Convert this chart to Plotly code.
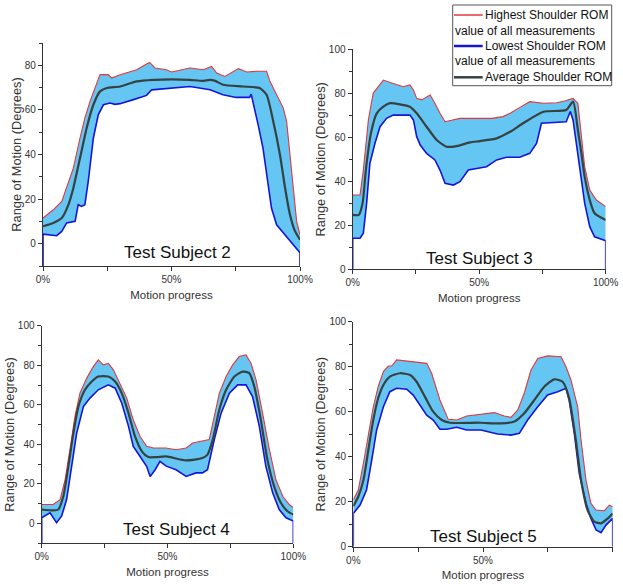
import plotly.graph_objects as go

# ---------------- data ----------------
subjects = ["Test Subject 2", "Test Subject 3", "Test Subject 4", "Test Subject 5"]
legend_names = ["Highest Shoulder ROM", "value of all measurements",
                "Lowest Shoulder ROM", "value of all measurements",
                "Average Shoulder ROM"]
x_tick_vals = [0, 25, 50, 75, 100]
x_tick_text = ["0%", "", "50%", "", "100%"]
y_ranges = [[-10, 90], [0, 100], [-10, 100], [0, 100]]

# Subject 2
s2_high_x = [0, 4, 7.3, 9.2, 11.8, 14.4, 16.3, 18.3, 20.2, 22.2, 25.4, 26.7, 30, 36.5, 40.3, 41.5, 43.6, 48, 50,
             54.6, 57.2, 62.4, 65.6, 67.6, 70.8, 76, 79.3, 83.2, 87, 88.3, 90.9, 93.5, 94.8, 96.1, 97.4, 98.7, 100]
s2_high_y = [11.5, 15.2, 19, 25, 33.9, 47.4, 56.4, 63.8, 69.8, 75.8, 75.8, 74.3, 75.8, 78, 80.6, 81.3, 78.8, 78, 77,
             78, 78.8, 78, 79.5, 76.5, 75, 78.5, 77, 77.3, 77.3, 72.8, 66.8, 60.8, 54.8, 39.9, 25, 10, 4]
s2_low_x = [0, 5.3, 7.3, 9.2, 12.5, 13.7, 15, 16.3, 17.6, 19.6, 21.5, 23.5, 26.1, 28, 30, 35.2, 40.3, 42.3, 49.4,
            57.2, 65, 70, 75.2, 80.4, 81, 81.7, 83.7, 85.6, 87.6, 88.9, 90.9, 94.2, 97.4, 99.4, 100]
s2_low_y = [4.3, 3.6, 5.5, 9.3, 10, 17.5, 16.7, 17.5, 27.9, 47.4, 57.8, 62.3, 63.1, 62.5, 62.8, 64.6, 66.5, 69, 69.8,
            70.5, 69, 66.8, 65.6, 65.6, 67.1, 63.8, 53.4, 42.9, 27.9, 16, 8.5, 4, -0.4, -3.5, -4]
s2_mean_x = [0, 4, 7.3, 9.9, 11.8, 14.4, 17, 19.6, 22.2, 24.8, 30, 36.5, 43, 50, 57.2, 62, 65, 67, 70, 77.8, 84.3,
             87, 89.6, 92.2, 94.2, 96.1, 98.1, 100]
s2_mean_y = [7.8, 9.3, 11.5, 17.5, 25, 38.4, 51.9, 62.3, 68.3, 69.8, 70.5, 72.8, 73.5, 73.7, 73.5, 73, 73.5, 73, 71.3,
             70.5, 69.8, 66.8, 54.8, 39.9, 25, 13, 5.5, 1.8]

# Subject 3
s3_high_x = [0, 2.9, 4.2, 6.2, 8.1, 9.5, 12.1, 16, 20, 22.6, 24, 25.3, 27.3, 30.6, 32.5, 34.5, 36.5, 42.4, 50.3, 55,
             59.4, 62.2, 66.1, 70, 75.4, 80.7, 84.1, 87.1, 89, 90.4, 91.7, 93.7, 96.3, 100]
s3_high_y = [33.8, 33.8, 45.1, 67.9, 80, 82.3, 86, 84.5, 83, 83.8, 81.5, 77.7, 77, 79.2, 75.5, 70.9, 67.1, 68.6, 68.6,
             68.6, 69.4, 70.9, 73.6, 76.2, 75.5, 75.7, 76.6, 77.7, 75.5, 60.3, 46.6, 36, 31.5, 28.5]
s3_low_x = [0, 2.9, 4.2, 5.5, 6.8, 8.8, 10.8, 13.4, 16, 22.6, 24, 25.3, 26.7, 29.2, 32.5, 34.5, 36.5, 39.8, 42.4, 45.7,
            50.3, 52.9, 56.9, 60.8, 66, 70, 72.7, 74.6, 84.4, 86, 87.1, 89, 90.4, 91.7, 93.7, 95.6, 100]
s3_low_y = [14.1, 14.1, 16.4, 30, 48.2, 57.3, 64.8, 68.6, 70.1, 70.1, 67.9, 60.3, 56.5, 52.7, 49.7, 45.1, 39.1, 38.3,
            39.8, 45.1, 45.9, 46.6, 49.7, 50.9, 50.9, 52.7, 57.3, 66.4, 67.1, 71.7, 67.9, 51.2, 40.6, 30, 19.4, 14.8, 13]
s3_mean_x = [0, 2.4, 3.9, 5.2, 7.2, 9.5, 12.1, 14.8, 18.7, 22.6, 25.3, 29.2, 33.2, 37.2, 41.1, 46.4, 50.3, 56.9, 62.2,
             67.5, 75.4, 84.4, 87.1, 89, 90.4, 91.7, 93.7, 95.6, 100]
s3_mean_y = [24.7, 24.7, 30, 45.1, 61.8, 70.9, 73.9, 75.5, 75, 73.9, 70.9, 64.8, 58.8, 55.7, 56, 57.7, 58.3, 59.5, 62.5,
             66.5, 71.6, 72.4, 76.2, 63.3, 52.7, 42, 31.5, 25.5, 22.4]

# Subject 4
s4_high_x = [0, 4.6, 7.3, 9.3, 11.2, 13.2, 15.2, 17.9, 20.5, 22.5, 24.5, 26.5, 28.5, 31.1, 33.8, 36.4, 39.1, 41.7,
             44.4, 49.4, 53.4, 57.4, 60, 66.6, 68, 70.6, 73.3, 75.9, 78.5, 81.2, 83.2, 85.2, 87.8, 90.5, 93.1, 95.8,
             98.4, 100]
s4_high_y = [9.6, 9.6, 12.1, 22.2, 37.3, 54.1, 65.9, 73.5, 79.3, 82.7, 80.2, 81, 77.7, 70.9, 63.4, 52.4, 44, 39, 38.2,
             38.2, 37.3, 38.2, 40.7, 42.4, 50.8, 65.9, 74.3, 80.2, 84.4, 85.2, 81, 72.6, 55.8, 37.3, 22.2, 13.8, 9.6, 8]
s4_low_x = [0, 3.3, 5.9, 7.9, 9.9, 11.9, 13.9, 16.6, 19.2, 22.5, 26.5, 29.2, 31.8, 34.5, 36.4, 39.1, 41.7, 43.1, 45.1,
            47, 49.5, 53.4, 57.4, 61.3, 63.9, 65.9, 68.6, 71.3, 74.6, 77.9, 81.2, 83.8, 86.5, 89.1, 91.8, 94.4, 97.1,
            100]
s4_low_y = [2.9, 5.4, 0.4, 3.7, 12.1, 28.9, 45.7, 59.2, 63.4, 67.6, 70.1, 68.4, 60.9, 49.1, 39, 33.9, 28.9, 23.8, 27.2,
            31.4, 29, 27.2, 23.8, 25.6, 25.6, 27.2, 42.4, 55.8, 65.9, 70.1, 70.1, 64.2, 49.1, 28.9, 15.5, 7.1, 2.9, 1.2]
s4_mean_x = [0, 4.6, 6.6, 8.6, 10.6, 12.6, 14.6, 17.2, 19.9, 22.5, 26.5, 29.2, 31.8, 34.5, 37.1, 39.8, 42.4, 45.7,
             49.5, 57.4, 63.9, 65.9, 68, 70.6, 73.3, 76.6, 79.8, 82.5, 84.5, 87.1, 89.7, 92.4, 95.1, 97.7, 100]
s4_mean_y = [7.1, 6.6, 7.1, 13.8, 28.9, 45.7, 59.2, 67.6, 71.8, 74.3, 74.3, 71.8, 65.9, 55.8, 44, 36.5, 33.6, 33.6,
             33.9, 31.9, 33.1, 34.8, 42.4, 57.5, 67.6, 74.3, 76.8, 76, 69.2, 52.4, 32.3, 18.8, 10.4, 6.2, 4.5]

# Subject 5
s5_high_x = [0, 1.9, 3.9, 5.8, 7.7, 9.6, 11.6, 13.5, 14.8, 16.7, 21.9, 28.3, 30.2, 33.4, 36.6, 39.9, 43.7, 49.2, 54.4,
             58.2, 60.8, 63.4, 65.9, 68.5, 71.1, 74.9, 80.1, 82, 83.9, 86.5, 87.8, 89.7, 91.6, 93.6, 96.8, 98.7, 100]
s5_high_y = [20.8, 25.2, 37.1, 50.4, 62.2, 71.1, 77.8, 80.3, 80.3, 83, 82.2, 81.5, 77.1, 65.2, 56.6, 56.3, 58.1, 59,
             59.6, 58.1, 57.5, 60.8, 68.2, 78.5, 83.7, 84.8, 84.4, 80, 74.1, 62.2, 47.4, 29.6, 19.3, 16.3, 16, 18.5,
             17.8]
s5_low_x = [0, 2.6, 5.1, 7.1, 9, 11.6, 14.1, 16.7, 20.6, 23.1, 25.7, 28.3, 30.8, 33.4, 36, 39.9, 43.7, 49.2, 55.6, 60.8,
            64, 67.2, 71.1, 74.9, 78.8, 82, 83.2, 85.2, 87.1, 89.7, 91.6, 93.6, 95.5, 97.4, 100]
s5_low_y = [14.8, 18.5, 25.2, 38.5, 51.9, 62.2, 68.9, 70.4, 70, 67.4, 63, 58.5, 56.3, 52.2, 52.2, 53.1, 51.9, 51.9,
            50.1, 49.6, 50.4, 56.3, 62.2, 67.4, 68.9, 70.4, 65.2, 50.4, 32.6, 19.3, 12.6, 7.4, 6.2, 9.6, 12.6]
s5_mean_x = [0, 1.9, 3.9, 5.8, 7.7, 9.6, 11.6, 14.1, 18, 21.9, 24.4, 27.6, 30.8, 34.1, 37.3, 48.8, 56.9, 62.1, 65.9,
             69.8, 73.6, 77.5, 80.7, 83.2, 85.8, 87.8, 90.3, 92.9, 95.5, 98.1, 100]
s5_mean_y = [18, 22.2, 29.6, 43, 56.3, 66, 71.9, 75.6, 77.1, 76.3, 73.3, 66.7, 60, 56.3, 55.1, 55.1, 54.8, 55.6, 59.3,
             65.2, 71.1, 74.4, 73.3, 66, 47.4, 29.6, 16.3, 11.1, 10.4, 12.6, 14.8]

series = [
    (s2_high_x, s2_high_y, s2_low_x, s2_low_y, s2_mean_x, s2_mean_y),
    (s3_high_x, s3_high_y, s3_low_x, s3_low_y, s3_mean_x, s3_mean_y),
    (s4_high_x, s4_high_y, s4_low_x, s4_low_y, s4_mean_x, s4_mean_y),
    (s5_high_x, s5_high_y, s5_low_x, s5_low_y, s5_mean_x, s5_mean_y),
]

# ---------------- styling / layout ----------------
W, H = 623, 584
FONT = "Arial, Liberation Sans, sans-serif"
FILL = "#65C5F3"
RED = "#E0393B"
BLUE = "#1515D8"
MEAN = "#364242"
AXC = "#333333"

# pixel boxes of each plot area: (x0, x1, ytop, ybottom)
boxes = [(43, 300, 43, 266), (352.7, 605.7, 49.3, 269.3),
         (41.7, 293.3, 325.7, 543.3), (353.3, 612.7, 321.7, 546.7)]
label_pos = [(52.5, -3.8), (50.3, 5), (53.7, -3.2), (50.1, 4.4)]

fig = go.Figure()
layout = dict(width=W, height=H, margin=dict(l=0, r=0, t=0, b=0, autoexpand=False),
              paper_bgcolor="white", plot_bgcolor="white", showlegend=False,
              font=dict(family=FONT, color=AXC))
annotations = []
shapes = []

for i, (hx, hy, lx, ly, mx, my) in enumerate(series):
    n = i + 1
    xa = "x" if n == 1 else f"x{n}"
    ya = "y" if n == 1 else f"y{n}"
    ymin = y_ranges[i][0]
    # band
    fig.add_trace(go.Scatter(x=hx + lx[::-1], y=hy + ly[::-1], fill="toself", fillcolor=FILL,
                             line=dict(width=0), mode="lines", hoverinfo="skip", xaxis=xa, yaxis=ya))
    fig.add_trace(go.Scatter(x=hx, y=hy, mode="lines", line=dict(color=RED, width=1.1),
                             name=legend_names[0], xaxis=xa, yaxis=ya))
    fig.add_trace(go.Scatter(x=[lx[0]] + lx + [lx[-1]], y=[ymin] + ly + [ymin], mode="lines",
                             line=dict(color=BLUE, width=1.6), name=legend_names[2], xaxis=xa, yaxis=ya))
    fig.add_trace(go.Scatter(x=mx, y=my, mode="lines", line=dict(color=MEAN, width=2.2, shape="spline", smoothing=0.6),
                             name=legend_names[4], xaxis=xa, yaxis=ya))

    x0, x1, yt, yb = boxes[i]
    xkey = "xaxis" if n == 1 else f"xaxis{n}"
    ykey = "yaxis" if n == 1 else f"yaxis{n}"
    layout[xkey] = dict(domain=[x0 / W, x1 / W], anchor=ya, range=[0, 100], automargin=False,
                        tickmode="array", tickvals=x_tick_vals, ticktext=x_tick_text,
                        ticks="outside", ticklen=4, tickwidth=1, tickcolor=AXC,
                        showline=True, linecolor=AXC, linewidth=1.3, showgrid=False, zeroline=False,
                        tickfont=dict(size=10, color=AXC),
                        title=dict(text="Motion progress", font=dict(size=11.5, color=AXC), standoff=6))
    layout[ykey] = dict(domain=[1 - yb / H, 1 - yt / H], anchor=xa, range=y_ranges[i], automargin=False,
                        tick0=0, dtick=20, ticks="outside", ticklen=4, tickwidth=1, tickcolor=AXC,
                        minor=dict(dtick=10, tick0=0, ticks="outside", ticklen=3, tickcolor=AXC),
                        showline=True, linecolor=AXC, linewidth=1.3, showgrid=False, zeroline=False,
                        tickfont=dict(size=10, color=AXC),
                        title=dict(text="Range of Motion (Degrees)", font=dict(size=12.8, color=AXC), standoff=0))
    lx_, ly_ = label_pos[i]
    annotations.append(dict(x=lx_, y=ly_, xref=xa, yref=ya, text=subjects[i], showarrow=False,
                            font=dict(size=17, color="#111111", family=FONT), xanchor="center", yanchor="middle"))

# custom legend (box, line samples, wrapped text)
shapes.append(dict(type="rect", xref="paper", yref="paper", x0=452.7 / W, x1=611.7 / W,
                   y0=1 - 85.7 / H, y1=1 - 5 / H, line=dict(color="#555555", width=1), fillcolor="white"))
legend_rows = [(15, RED, 1.5), (46, BLUE, 2.5), (77.3, MEAN, 2.5)]
for yy, c, w in legend_rows:
    shapes.append(dict(type="line", xref="paper", yref="paper", x0=454 / W, x1=482.7 / W,
                       y0=1 - yy / H, y1=1 - yy / H, line=dict(color=c, width=w)))
text_rows = [(483, 15), (452.5, 30.7), (483, 46), (452.5, 61.3), (483, 77.3)]
for (tx, ty), t in zip(text_rows, legend_names):
    annotations.append(dict(x=tx / W, y=1 - ty / H, xref="paper", yref="paper", text=t, showarrow=False,
                            xanchor="left", yanchor="middle", font=dict(size=12, color="#111111", family=FONT)))

layout["annotations"] = annotations
layout["shapes"] = shapes
fig.update_layout(**layout)
fig.write_html("out.html", config={"displayModeBar": False},
               post_script="document.body.style.margin='0px';document.body.style.overflow='hidden';")
